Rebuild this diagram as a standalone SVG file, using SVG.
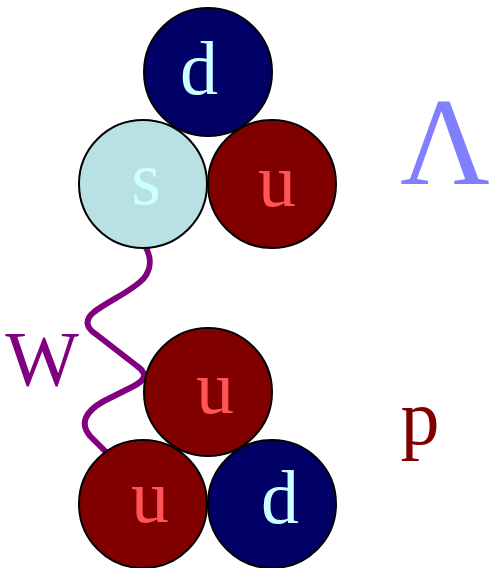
<svg xmlns="http://www.w3.org/2000/svg" width="490" height="568" viewBox="0 0 490 568">
<style>
.q{stroke:#000;stroke-width:2}
.dn{fill:#000066}
.up{fill:#800000}
.st{fill:#b9e0e3}
.t{font-family:"Liberation Serif","Times New Roman",serif;font-size:76px;text-anchor:middle}
.tl{fill:#ccffff}
.tu{fill:#ff5555}
</style>
<rect width="490" height="568" fill="#fff"/>
<g id="connectors">
<path d="M145,246 C151,256 152,268 144,278 C134,290 110,300 94,312 C84,320 86,328 97,335 L137,366 C148,374 146,380 132,387 L104,401 C84,412 80,424 90,436 L108,454" fill="none" stroke="#800080" stroke-width="6" stroke-linecap="round" stroke-linejoin="round"/>
</g>
<g id="lambda-d"><circle class="q dn" cx="208" cy="72" r="64"/><text class="t tl" x="199" y="94">d</text></g>
<g id="lambda-s"><circle class="q st" cx="143" cy="184" r="64"/><text class="t tl" x="146" y="204">s</text></g>
<g id="lambda-u"><circle class="q up" cx="272" cy="184" r="64"/><text class="t tu" x="277" y="206">u</text></g>
<g id="p-u1"><circle class="q up" cx="208" cy="392" r="64"/><text class="t tu" x="215" y="413">u</text></g>
<g id="p-u2"><circle class="q up" cx="143" cy="504" r="64"/><text class="t tu" x="150" y="522">u</text></g>
<g id="p-d"><circle class="q dn" cx="272" cy="504" r="64"/><text class="t tl" x="280" y="523">d</text></g>
<g id="label-lambda"><text x="445" y="184" font-family="Liberation Serif,serif" font-size="124" fill="#8080ff" text-anchor="middle">Λ</text></g>
<g id="label-W"><text x="42" y="385" font-family="Liberation Serif,serif" font-size="78" fill="#800080" text-anchor="middle">W</text></g>
<g id="label-p"><text x="420" y="444" font-family="Liberation Serif,serif" font-size="78" fill="#800000" text-anchor="middle">p</text></g>
</svg>
